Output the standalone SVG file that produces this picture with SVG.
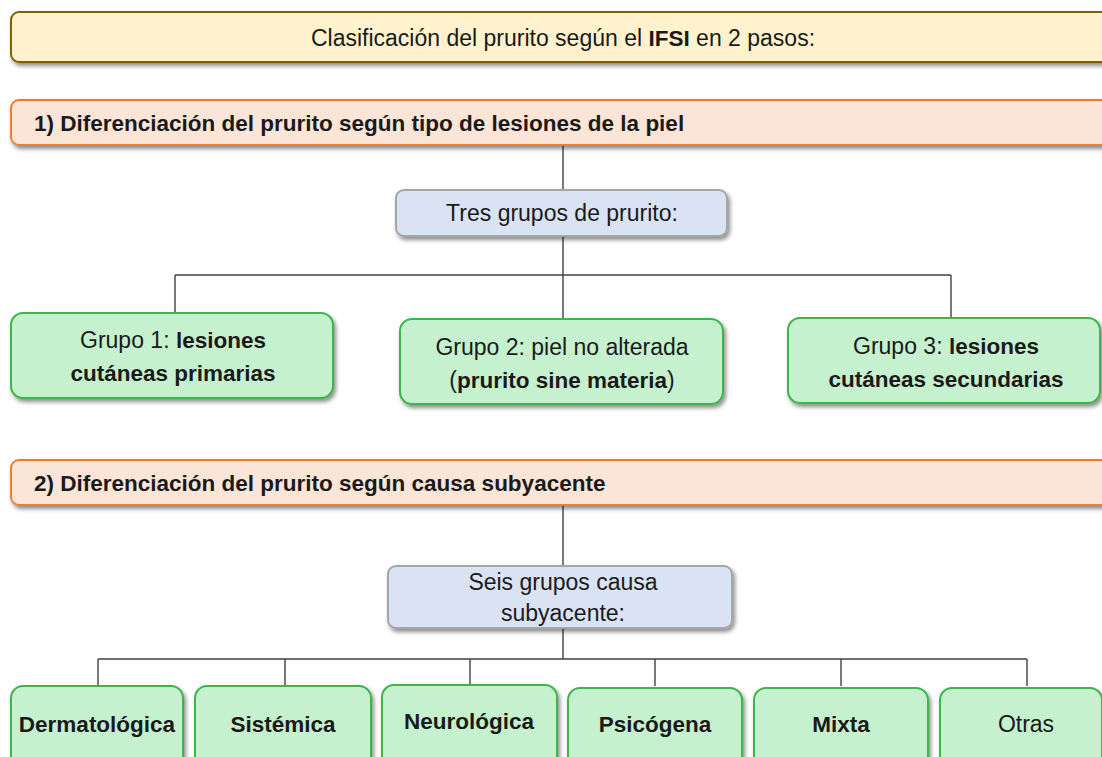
<svg xmlns="http://www.w3.org/2000/svg" width="1102" height="757" viewBox="0 0 1102 757">
<defs>
<filter id="sh" x="-10%" y="-20%" width="120%" height="150%">
<feDropShadow dx="2" dy="3" stdDeviation="2" flood-color="#000" flood-opacity="0.45"/>
</filter>
</defs>
<style>
text{font-family:"Liberation Sans",Arial,sans-serif;font-size:23px;fill:#1a1a1a}
.b{font-weight:bold;font-size:22.5px}
.title{fill:#FFF2CC;stroke:#7F6000;stroke-width:2}
.step{fill:#FBE5D6;stroke:#ED7D31;stroke-width:2}
.mid{fill:#DAE3F3;stroke:#A6A6A6;stroke-width:2}
.grp{fill:#C6F1CE;stroke:#3DB54A;stroke-width:2}
.c{text-anchor:middle}
.ln{fill:none;stroke:#404040;stroke-width:1.4}
</style>
<rect width="1102" height="757" fill="#fff"/>
<g id="connectors">
<path class="ln" d="M563 145V190M563 236V320M175 275H951M175 275V313M951 275V318"/>
<path class="ln" d="M563 505V566M563 628V659M98 659H1027M98 659V686M285 659V686M470 659V686M655 659V686M841 659V686M1027 659V686"/>
</g>
<g id="title">
<rect class="title" x="11" y="12" width="1100" height="50" rx="8" filter="url(#sh)"/>
<text class="c" x="563" y="46">Clasificación del prurito según el <tspan class="b">IFSI</tspan> en 2 pasos:</text>
</g>
<g id="step1">
<rect class="step" x="11" y="100" width="1100" height="45" rx="8" filter="url(#sh)"/>
<text class="b" x="34" y="131">1) Diferenciación del prurito según tipo de lesiones de la piel</text>
</g>
<g id="tres">
<rect class="mid" x="396" y="190" width="331" height="46" rx="8" filter="url(#sh)"/>
<text class="c" x="562" y="221">Tres grupos de prurito:</text>
</g>
<g id="grupo1">
<rect class="grp" x="11" y="313" width="322" height="85" rx="12" filter="url(#sh)"/>
<text class="c" x="173" y="348">Grupo 1: <tspan class="b">lesiones</tspan></text>
<text class="c b" x="173" y="381">cutáneas primarias</text>
</g>
<g id="grupo2">
<rect class="grp" x="400" y="319" width="323" height="85" rx="12" filter="url(#sh)"/>
<text class="c" x="562" y="355">Grupo 2: piel no alterada</text>
<text class="c" x="562" y="388">(<tspan class="b">prurito sine materia</tspan>)</text>
</g>
<g id="grupo3">
<rect class="grp" x="788" y="318" width="312" height="85" rx="12" filter="url(#sh)"/>
<text class="c" x="946" y="354">Grupo 3: <tspan class="b">lesiones</tspan></text>
<text class="c b" x="946" y="387">cutáneas secundarias</text>
</g>
<g id="step2">
<rect class="step" x="11" y="460" width="1100" height="45" rx="8" filter="url(#sh)"/>
<text class="b" x="34" y="491">2) Diferenciación del prurito según causa subyacente</text>
</g>
<g id="seis">
<rect class="mid" x="388" y="566" width="344" height="62" rx="8" filter="url(#sh)"/>
<text class="c" x="563" y="590">Seis grupos causa</text>
<text class="c" x="563" y="621">subyacente:</text>
</g>
<g id="dermatologica">
<rect class="grp" x="11" y="686" width="172" height="90" rx="12" filter="url(#sh)"/>
<text class="c b" x="97" y="732">Dermatológica</text>
</g>
<g id="sistemica">
<rect class="grp" x="195" y="686" width="176" height="90" rx="12" filter="url(#sh)"/>
<text class="c b" x="283" y="732">Sistémica</text>
</g>
<g id="neurologica">
<rect class="grp" x="382" y="685" width="175" height="90" rx="12" filter="url(#sh)"/>
<text class="c b" x="469" y="729">Neurológica</text>
</g>
<g id="psicogena">
<rect class="grp" x="568" y="688" width="174" height="90" rx="12" filter="url(#sh)"/>
<text class="c b" x="655" y="732">Psicógena</text>
</g>
<g id="mixta">
<rect class="grp" x="754" y="688" width="174" height="90" rx="12" filter="url(#sh)"/>
<text class="c b" x="841" y="732">Mixta</text>
</g>
<g id="otras">
<rect class="grp" x="940" y="688" width="162" height="90" rx="12" filter="url(#sh)"/>
<text class="c" x="1026" y="732">Otras</text>
</g>
</svg>
